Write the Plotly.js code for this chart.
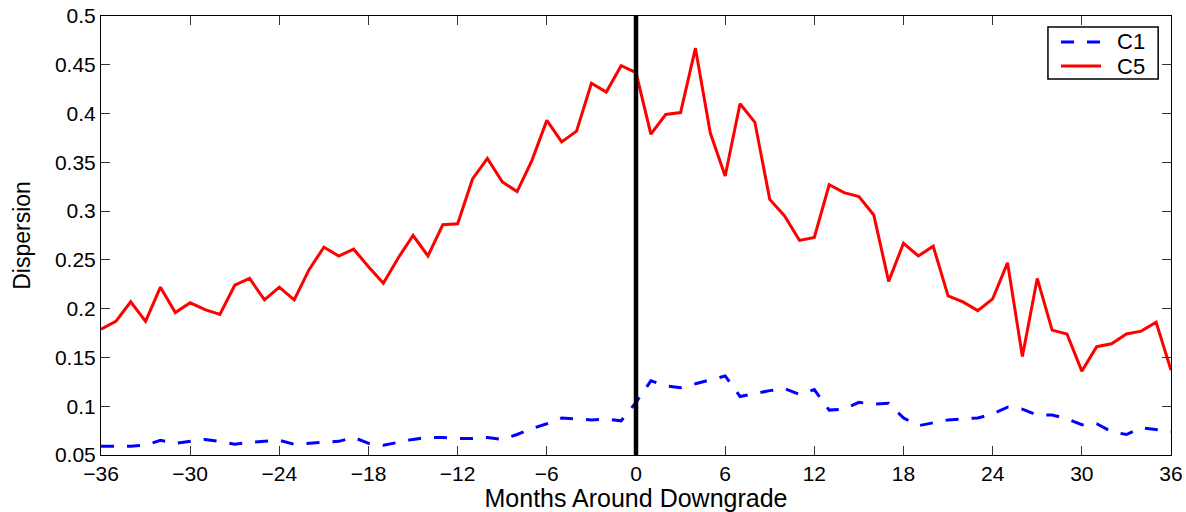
<!DOCTYPE html>
<html>
<head>
<meta charset="utf-8">
<script src="https://cdn.plot.ly/plotly-3.0.1.min.js"></script>
<style>html,body{margin:0;padding:0;background:#fff;}#chart{width:1186px;height:512px;}</style>
</head>
<body>
<div id="chart"></div>
<script>
const months = [-36,-35,-34,-33,-32,-31,-30,-29,-28,-27,-26,-25,
  -24,-23,-22,-21,-20,-19,-18,-17,-16,-15,-14,-13,
  -12,-11,-10,-9,-8,-7,-6,-5,-4,-3,-2,-1,
  0,1,2,3,4,5,6,7,8,9,10,11,
  12,13,14,15,16,17,18,19,20,21,22,23,
  24,25,26,27,28,29,30,31,32,33,34,35,36];

const c1 = [0.059,0.059,0.059,0.060,0.065,0.062,0.064,0.066,0.064,0.061,0.063,0.064,
  0.065,0.061,0.062,0.063,0.064,0.068,0.062,0.060,0.063,0.066,0.068,0.068,
  0.067,0.067,0.068,0.066,0.071,0.077,0.082,0.088,0.087,0.086,0.087,0.085,
  0.104,0.126,0.121,0.119,0.123,0.127,0.131,0.110,0.113,0.116,0.118,0.112,
  0.117,0.096,0.097,0.104,0.102,0.103,0.088,0.080,0.083,0.086,0.087,0.088,
  0.092,0.099,0.097,0.091,0.091,0.087,0.081,0.082,0.074,0.071,0.078,0.076,0.074];

const c5 = [0.179,0.187,0.207,0.187,0.222,0.196,0.206,0.199,0.194,0.224,0.231,0.209,
  0.222,0.209,0.240,0.263,0.254,0.261,0.243,0.226,0.252,0.275,0.254,0.286,
  0.287,0.333,0.354,0.330,0.320,0.352,0.393,0.371,0.382,0.431,0.422,0.449,
  0.442,0.379,0.399,0.401,0.467,0.380,0.336,0.410,0.391,0.312,0.295,0.270,
  0.273,0.327,0.319,0.315,0.296,0.228,0.267,0.254,0.264,0.213,0.207,0.198,
  0.210,0.247,0.151,0.231,0.178,0.174,0.136,0.161,0.164,0.174,0.177,0.186,0.137];

const seriesNames = ["C1", "C5"];
const xTicks = [-36,-30,-24,-18,-12,-6,0,6,12,18,24,30,36];
const yTicks = [0.05,0.1,0.15,0.2,0.25,0.3,0.35,0.4,0.45,0.5];
const yTickText = ["0.05","0.1","0.15","0.2","0.25","0.3","0.35","0.4","0.45","0.5"];
const downgradeMonth = 0;

const font = "Liberation Sans, Arial, Helvetica, sans-serif";
const blue = "#0000ff", red = "#ff0000";
const c1Line = {color: blue, width: 3, dash: "13px,13px"};
const c5Line = {color: red, width: 3};

const traces = [
  {x: months, y: c1, name: seriesNames[0], type: "scatter", mode: "lines", line: c1Line},
  {x: months, y: c5, name: seriesNames[1], type: "scatter", mode: "lines", line: c5Line}
];

const axisCommon = {
  showgrid: false, zeroline: false, showline: true, linecolor: "#000", linewidth: 1,
  mirror: "ticks", ticks: "inside", ticklen: 9, tickcolor: "#333", tickwidth: 1,
  tickfont: {family: font, size: 21, color: "#000"}
};

// hand-built legend box (paper coordinates) to match the compact MATLAB legend
const leg = {x0: 0.885, x1: 0.988, y0: 0.8565, y1: 0.975,
  lineX0: 0.8972, lineX1: 0.9346, textX: 0.9477, rowY: [0.9408, 0.886]};

const layout = {
  width: 1186, height: 512,
  margin: {l: 101, r: 15, t: 16, b: 57},
  paper_bgcolor: "#fff", plot_bgcolor: "#fff",
  showlegend: false,
  xaxis: Object.assign({}, axisCommon, {
    range: [-36, 36], tickmode: "array", tickvals: xTicks,
    title: {text: "Months Around Downgrade", font: {family: font, size: 25, color: "#000"}, standoff: 6}
  }),
  yaxis: Object.assign({}, axisCommon, {
    range: [0.05, 0.5], tickmode: "array", tickvals: yTicks, ticktext: yTickText,
    title: {text: "Dispersion", font: {family: font, size: 23, color: "#000"}, standoff: 17}
  }),
  shapes: [
    {type: "line", xref: "x", yref: "paper", x0: downgradeMonth, x1: downgradeMonth, y0: 0, y1: 1,
     line: {color: "#000", width: 4.5}},
    {type: "rect", xref: "paper", yref: "paper", x0: leg.x0, x1: leg.x1, y0: leg.y0, y1: leg.y1,
     line: {color: "#000", width: 1.5}, fillcolor: "#fff", layer: "above"},
    {type: "line", xref: "paper", yref: "paper", x0: leg.lineX0, x1: leg.lineX1, y0: leg.rowY[0], y1: leg.rowY[0],
     line: c1Line, layer: "above"},
    {type: "line", xref: "paper", yref: "paper", x0: leg.lineX0, x1: leg.lineX1, y0: leg.rowY[1], y1: leg.rowY[1],
     line: c5Line, layer: "above"}
  ],
  annotations: seriesNames.map((n, i) => ({
    xref: "paper", yref: "paper", x: leg.textX, y: leg.rowY[i], xanchor: "left", yanchor: "middle",
    text: n, showarrow: false, font: {family: font, size: 22, color: "#000"}
  }))
};

Plotly.newPlot("chart", traces, layout, {staticPlot: true, displayModeBar: false});
</script>
</body>
</html>
